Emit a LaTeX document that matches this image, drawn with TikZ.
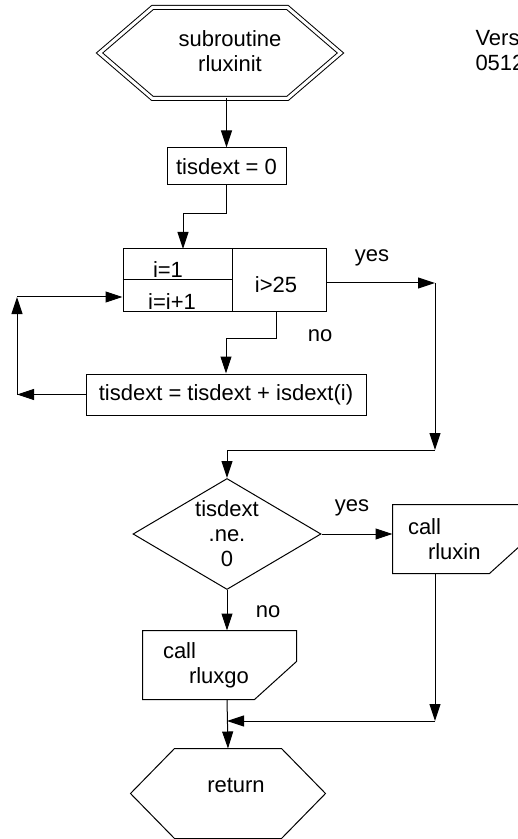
\documentclass[tikz,border=0pt]{standalone}
\usepackage{fontspec}
\setmainfont{Liberation Sans}
\usetikzlibrary{arrows.meta,shapes.geometric}

\tikzset{
  arr/.style={-{Triangle[length=8.5pt,width=5.5pt]}},
  box/.style={draw,rectangle,inner sep=0pt},
  txt/.style={inner sep=0pt},
  callbox/.style={inner ysep=0pt,minimum height=34pt,align=left},
}

\begin{document}
\begin{tikzpicture}[x=0.5pt,y=-0.5pt,line width=0.5pt,font=\fontsize{11pt}{12.5pt}\selectfont]

\useasboundingbox (0,0) rectangle (518,839);
\clip (0,0) rectangle (518,839);

% Start
\node[minimum width=120pt,minimum height=45pt,inner sep=0pt,
  label={[align=center,xshift=5pt,yshift=1pt]center:subroutine\\rluxinit}] (sub) at (220,53) {};
\draw[double,double distance=1.5pt] (sub.west) -- ([xshift=26.5pt]sub.north west)
  -- ([xshift=-26.5pt]sub.north east) -- (sub.east) -- ([xshift=-26.5pt]sub.south east)
  -- ([xshift=26.5pt]sub.south west) -- cycle;

\node[txt,anchor=west,align=left] (ver) at (475,50) {Version\\0512};

% Init
\node[box,minimum width=59.5pt,minimum height=18.5pt] (zero) at (226.5,166.5) {tisdext = 0};

% Loop
\node[box,minimum width=101.5pt,minimum height=31pt] (loop) at (224.5,280) {};
\draw ([xshift=55pt]loop.north west) -- ([xshift=55pt]loop.south west);
\draw (loop.west) -- ([xshift=55pt]loop.west);
\node[txt] (init) at (168,270) {i=1};
\node[txt] (incr) at (172,302) {i=i+1};
\node[txt] (test) at (276,285) {i>25};

\node[box,minimum width=140pt,minimum height=20.5pt] (sum) at (226,394.5) {tisdext = tisdext + isdext(i)};

\node[txt] (yesa) at (372,258) {yes};
\node[txt] (noa) at (320,336) {no};

% Decision
\node[draw,diamond,minimum width=94pt,minimum height=55.5pt,inner sep=0pt,
  label={[align=center]center:tisdext\\.ne.\\0}] (cond) at (227,534) {};

\node[txt] (yesb) at (352,508) {yes};
\node[txt] (nob) at (268,612) {no};

% Calls
\node[callbox,inner xsep=7.5pt,text width=54pt] (rin) at (462,539) {call\\\hspace*{10pt}rluxin};
\draw (rin.north west) -- (rin.north east) -- ([yshift=19pt]rin.south east)
  -- ([xshift=-21pt]rin.south east) -- (rin.south west) -- cycle;

\node[callbox,inner xsep=10pt,text width=56.5pt] (rgo) at (219.5,665) {call\\\hspace*{13pt}rluxgo};
\draw (rgo.north west) -- (rgo.north east) -- ([yshift=19pt]rgo.south east)
  -- ([xshift=-21pt]rgo.south east) -- (rgo.south west) -- cycle;

% Return
\node[minimum width=97pt,minimum height=44.5pt,inner sep=0pt,
  label={[xshift=4pt,yshift=4pt]center:return}] (ret) at (228,793.5) {};
\draw (ret.west) -- ([xshift=22pt]ret.north west) -- ([xshift=-22pt]ret.north east)
  -- (ret.east) -- ([xshift=-22pt]ret.south east) -- ([xshift=22pt]ret.south west) -- cycle;

% Connectors
\coordinate (in1) at (183,249);
\coordinate (out1) at (435,283);
\coordinate (out2) at (435,450);
\coordinate (back1) at (17,394.5);
\coordinate (back2) at (17,297);
\coordinate (join) at (435,721);

\draw[arr] (zero.north |- sub.south) -- (zero.north);
\draw[arr] (zero.south) -- ++(0,28) -| (in1);
\draw[arr] (loop.east |- out1) -- (out1);
\draw[arr] (out1) -- (out2);
\draw[arr] (out2) -| (cond.north);
\draw[arr] (loop.south -| test) -- ++(0,27) -| (sum.north);
\draw[arr] (sum.west) -- (back1);
\draw[arr] (back1) -- (back2);
\draw[arr] (back2) -- (back2 -| loop.west);
\draw[arr] (cond.east) -- (rin.west |- cond.east);
\draw[arr] (cond.south) -- (rgo.north -| cond.south);
\draw[arr] (rin.south -| join) -- (join);
\draw[arr] (join) -- (join -| cond.south);
\draw[arr] (rgo.south -| cond.south) -- (ret.north);

\end{tikzpicture}
\end{document}
